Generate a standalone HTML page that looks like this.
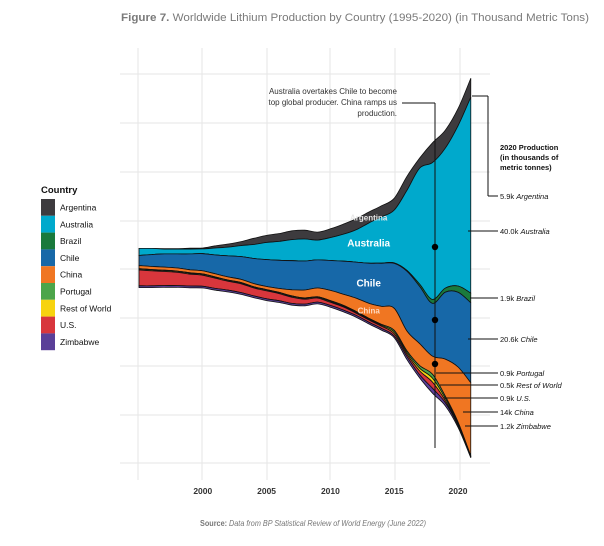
<!DOCTYPE html>
<html><head><meta charset="utf-8">
<style>
html,body{margin:0;padding:0;background:#fff;}
svg{display:block;font-family:"Liberation Sans",sans-serif;}
</style></head>
<body>
<svg id="chart" width="604" height="546" viewBox="0 0 604 546" xmlns="http://www.w3.org/2000/svg">
<text x="121" y="21" font-size="11" font-weight="bold" fill="#7a7a7a" textLength="468" lengthAdjust="spacingAndGlyphs">Figure 7. <tspan font-weight="normal">Worldwide Lithium Production by Country (1995-2020) (in Thousand Metric Tons)</tspan></text>
<g id="grid"></g>
<g id="streams"></g>
<g id="xaxis"></g>
<g id="legend"></g>
<g id="annot"></g>
<text x="200" y="526" font-size="8.5" fill="#777" textLength="226" lengthAdjust="spacingAndGlyphs"><tspan font-weight="bold">Source: </tspan><tspan font-style="italic">Data from BP Statistical Review of World Energy (June 2022)</tspan></text>
</svg>
<script>
const years = [1995,1996,1997,1998,1999,2000,2001,2002,2003,2004,2005,2006,2007,2008,2009,2010,2011,2012,2013,2014,2015,2016,2017,2018,2019,2020,2021];
const countries = ["Argentina","Australia","Brazil","Chile","China","Portugal","Rest of World","U.S.","Zimbabwe"];
const argentina = [0,0,0.1,0.1,0.2,0.2,0.5,0.7,0.9,1.4,1.6,1.8,2.0,2.0,1.8,2.0,2.3,2.5,2.5,2.5,2.7,3.2,2.3,4.5,4.1,3.9,4.3];
const australia = [1.6,1.4,1.1,1.1,1.1,1.1,1.6,2.0,2.5,3.2,3.9,4.3,4.8,5.0,4.5,5.2,6.1,7.3,9.1,10.5,12.0,18.2,26.4,31.1,31.8,36.4,44.5];
const brazil = [0,0,0,0,0,0,0,0,0,0,0,0,0,0,0,0,0,0,0,0.05,0.1,0.2,0.5,0.9,0.9,1.4,2.2];
const chile = [2.3,2.7,3.0,3.2,3.6,3.9,4.3,4.8,5.2,5.7,6.1,6.4,6.6,6.6,6.4,6.8,7.5,8.2,9.1,9.8,10.2,13.6,13.0,12.0,15.2,17.0,18.2];
const china = [0.7,0.7,0.7,0.7,0.7,0.7,0.7,0.7,0.7,0.7,0.7,0.9,1.4,1.8,2.0,2.3,2.5,3.0,3.4,4.1,5.0,4.5,5.0,4.1,8.4,12.5,16.6];
const portugal = [0.1,0.1,0.1,0.1,0.1,0.1,0.1,0.1,0.1,0.1,0.1,0.1,0.1,0.1,0.1,0.2,0.2,0.2,0.2,0.2,0.4,0.4,0.6,0.9,0.5,0.3,0.1];
const restOfWorld = [0.2,0.2,0.2,0.2,0.2,0.2,0.2,0.2,0.2,0.2,0.2,0.2,0.2,0.2,0.2,0.2,0.2,0.2,0.2,0.2,0.4,0.4,0.6,0.9,0.5,0.3,0.1];
const us = [3.6,3.4,3.2,3.0,2.7,2.5,2.3,2.0,2.0,1.8,1.8,1.6,1.4,1.1,0.9,0.7,0.7,0.5,0.5,0.5,0.5,0.5,0.9,1.4,0.5,0.2,0.1];
const zimbabwe = [0.4,0.4,0.4,0.4,0.4,0.4,0.4,0.4,0.4,0.4,0.4,0.4,0.4,0.4,0.4,0.4,0.4,0.4,0.4,0.4,0.4,0.7,0.7,1.1,0.7,0.4,0.1];
const xTicks = [2000,2005,2010,2015,2020];
const labelValues = ["5.9k","40.0k","1.9k","20.6k","0.9k","0.5k","0.9k","14k","1.2k"];
const labelNames = ["Argentina","Australia","Brazil","Chile","Portugal","Rest of World","U.S.","China","Zimbabwe"];

const NS="http://www.w3.org/2000/svg";
const colors=["#3d3b3e","#00a9cc","#1a7a3c","#1768a8","#f07622","#4ca54a","#f7d30f","#d8363c","#5a3f98"];
const series=[argentina,australia,brazil,chile,china,portugal,restOfWorld,us,zimbabwe];
const X=y=>139+(y-1995)*12.76;
const K=4.4, CY=268;
const Y=v=>CY-v*K;
function mk(tag,attrs,parent){const e=document.createElementNS(NS,tag);for(const k in attrs)e.setAttribute(k,attrs[k]);parent.appendChild(e);return e;}
const grid=document.getElementById('grid');
[138,202,267,330,395,460].forEach(x=>{const l=mk('line',{x1:x,x2:x,y1:48,y2:480,stroke:'#e6e6e6','stroke-width':1},grid);});
[74,123,172,221,269,318,366,415,463].forEach(y=>{const l=mk('line',{x1:120,x2:490,y1:y,y2:y,stroke:'#e6e6e6','stroke-width':1},grid);});

// silhouette stacking, top to bottom
const n=years.length;
const totals=years.map((_,i)=>series.reduce((s,a)=>s+a[i],0));
const tops=[],bots=[];
let cur=totals.map(t=>t/2);
series.forEach((a,si)=>{tops.push(cur.slice());cur=cur.map((c,i)=>c-a[i]);bots.push(cur.slice());});
function spline(pts){let d='';for(let i=0;i<pts.length;i++){const p=pts[i];if(i===0){d+=`M${p[0]},${p[1]}`;continue;}const p0=pts[i-2]||pts[i-1],p1=pts[i-1],p3=pts[i+1]||p;const t=1/6;const c1=[p1[0]+(p[0]-p0[0])*t,p1[1]+(p[1]-p0[1])*t];const c2=[p[0]-(p3[0]-p1[0])*t,p[1]-(p3[1]-p1[1])*t];d+=`C${c1[0].toFixed(1)},${c1[1].toFixed(1)} ${c2[0].toFixed(1)},${c2[1].toFixed(1)} ${p[0].toFixed(1)},${p[1].toFixed(1)}`;}return d;}
function splineCont(pts){return spline(pts).replace(/^M/,'L');}
const sg=document.getElementById('streams');
series.forEach((a,si)=>{
  const top=years.map((y,i)=>[X(y),Y(tops[si][i])]);
  const bot=years.map((y,i)=>[X(y),Y(bots[si][i])]).reverse();
  const d=spline(top)+splineCont(bot)+'Z';
  const p=mk('path',{d:d,fill:colors[si],stroke:'#111','stroke-width':0.8,'stroke-linejoin':'round'},sg);
  
  
});
function streamLabel(txt,si,yr,fill,fs){const i=years.indexOf(yr);const y=Y((tops[si][i]+bots[si][i])/2)+fs*0.35;const t=mk('text',{x:X(yr),y:y,'font-size':fs,'font-weight':'bold',fill:fill,'text-anchor':'middle'},sg);t.textContent=txt;}
streamLabel('Argentina',0,2013,'#e8e8e8',8);
streamLabel('Australia',1,2013,'#ffffff',10);
streamLabel('Chile',3,2013,'#ffffff',10);
streamLabel('China',4,2013,'#ffd9c0',8);

const xa=document.getElementById('xaxis');
xTicks.forEach(t=>{const e=mk('text',{x:X(t),y:494,'font-size':8.5,'font-weight':'bold',fill:'#333','text-anchor':'middle'},xa);e.textContent=t;});

const lg=document.getElementById('legend');
const lt=mk('text',{x:41,y:193,'font-size':9.5,'font-weight':'bold',fill:'#111'},lg);lt.textContent='Country';
countries.forEach((c,i)=>{const y=199+i*16.8;
  const r=mk('rect',{x:41,y:y,width:14,height:16.8,fill:colors[i]},lg);
  const t=mk('text',{x:60,y:y+11.5,'font-size':8.5,fill:'#111'},lg);t.textContent=c;});

const an=document.getElementById('annot');
const L=(x1,y1,x2,y2)=>{const l=mk('line',{x1,y1,x2,y2,stroke:'#111','stroke-width':1},an);};
L(435,103,435,448);L(402,103,435,103);
[247,320,364].forEach(y=>{const c=mk('circle',{cx:435,cy:y,r:3.2,fill:'#000'},an);});
['Australia overtakes Chile to become','top global producer. China ramps us','production.'].forEach((s,i)=>{const t=mk('text',{x:397,y:94+i*11,'font-size':8,fill:'#333','text-anchor':'end'},an);t.textContent=s;});
L(472,96,488,96);L(488,96,488,196);L(488,196,498,196);
['2020 Production','(in thousands of','metric tonnes)'].forEach((s,i)=>{const t=mk('text',{x:500,y:150+i*10,'font-size':7.5,'font-weight':'bold',fill:'#111'},an);t.textContent=s;});
const labYs=[196,231,298,339,373,385,398,412,426];
const startX=[null,468,470,468,436,440,444,463,465];
labelNames.forEach((nm,i)=>{const y=labYs[i];if(startX[i]!==null)L(startX[i],y,498,y);
  const t=mk('text',{x:500,y:y+3,'font-size':7.5,fill:'#111'},an);
  
  const a=mk('tspan',{},t);a.textContent=labelValues[i]+' ';const b=mk('tspan',{'font-style':'italic'},t);b.textContent=nm;});
</script>
</body></html>
